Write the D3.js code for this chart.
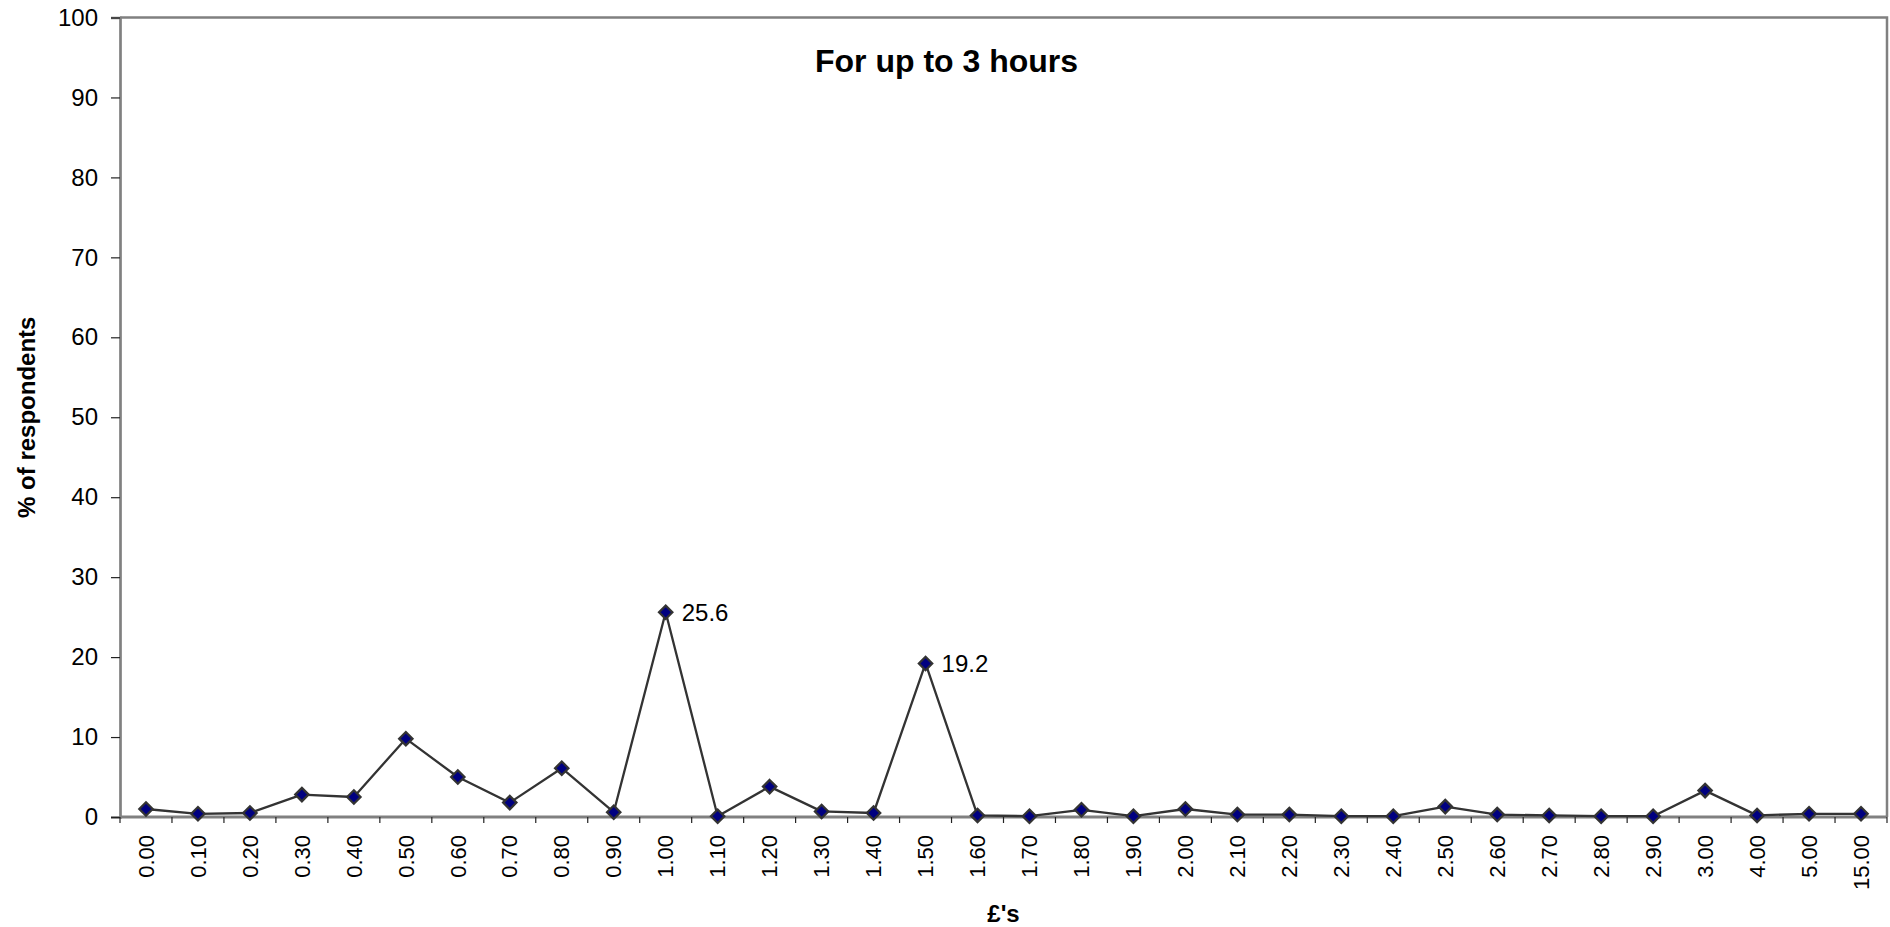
<!DOCTYPE html>
<html>
<head>
<meta charset="utf-8">
<script src="https://cdn.jsdelivr.net/npm/d3@7/dist/d3.min.js"></script>
<style>
  html, body { margin: 0; padding: 0; background: #ffffff; }
  svg { display: block; }
  text { font-family: "Liberation Sans", Arial, sans-serif; fill: #000; }
</style>
</head>
<body>
<script>
const categories = ["0.00","0.10","0.20","0.30","0.40","0.50","0.60","0.70","0.80","0.90",
  "1.00","1.10","1.20","1.30","1.40","1.50","1.60","1.70","1.80","1.90",
  "2.00","2.10","2.20","2.30","2.40","2.50","2.60","2.70","2.80","2.90",
  "3.00","4.00","5.00","15.00"];
const values = [1.0,0.4,0.5,2.8,2.5,9.8,5.0,1.8,6.1,0.6,
  25.6,0.1,3.8,0.7,0.5,19.2,0.2,0.1,0.9,0.1,
  1.0,0.3,0.3,0.1,0.1,1.3,0.3,0.2,0.1,0.1,
  3.3,0.2,0.4,0.4];
const labelledCategories = ["1.00","1.50"];
const yTicks = [0,10,20,30,40,50,60,70,80,90,100];
const chartTitle = "For up to 3 hours";
const xTitle = "£'s";
const yTitle = "% of respondents";

const W = 1890, H = 927;
const plot = { left: 120, right: 1887, top: 17.5, bottom: 817 };

const svg = d3.select("body").append("svg").attr("width", W).attr("height", H);

const x = d3.scaleBand().domain(categories).range([plot.left, plot.right]).paddingInner(0).paddingOuter(0);
const y = d3.scaleLinear().domain([0, 100]).range([plot.bottom, plot.top]);

// plot border (top, right)
svg.append("path")
  .attr("d", `M${plot.left},${plot.top}H${plot.right}V${plot.bottom}`)
  .attr("fill", "none").attr("stroke", "#808080").attr("stroke-width", 2.5);

// Y axis
const yAxis = svg.append("g").attr("transform", `translate(${plot.left},0)`)
  .call(d3.axisLeft(y).tickValues(yTicks).tickSize(9).tickPadding(13).tickFormat(d3.format("d")));
yAxis.select(".domain").attr("stroke", "#808080").attr("stroke-width", 2.7);
yAxis.selectAll(".tick line").attr("stroke", "#222").attr("stroke-width", 1.2);
yAxis.selectAll(".tick text").attr("font-size", 24).attr("font-family", "Liberation Sans, Arial, sans-serif").attr("fill", "#000");

// X axis: ticks at category boundaries
const xAxisG = svg.append("g");
xAxisG.append("line")
  .attr("x1", plot.left).attr("x2", plot.right)
  .attr("y1", plot.bottom).attr("y2", plot.bottom)
  .attr("stroke", "#808080").attr("stroke-width", 3.2);
const boundaries = categories.map(c => x(c)).concat([x(categories[categories.length-1]) + x.bandwidth()]);
xAxisG.selectAll("line.xt").data(boundaries).enter().append("line")
  .attr("class", "xt")
  .attr("x1", d => d).attr("x2", d => d)
  .attr("y1", plot.bottom).attr("y2", plot.bottom + 6)
  .attr("stroke", "#222").attr("stroke-width", 1.2);
xAxisG.selectAll("text.xl").data(categories).enter().append("text")
  .attr("class", "xl")
  .attr("transform", d => `translate(${x(d) + x.bandwidth()/2},835) rotate(-90)`)
  .attr("text-anchor", "end")
  .attr("dy", "0.35em")
  .attr("font-size", 22)
  .text(d => d);

// line
const cx = d => x(d) + x.bandwidth()/2;
const lineGen = d3.line().x((d, i) => cx(categories[i])).y(d => y(d));
svg.append("path").datum(values)
  .attr("d", lineGen)
  .attr("fill", "none").attr("stroke", "#333333").attr("stroke-width", 2.3)
  .attr("stroke-linejoin", "round");

// markers (diamonds)
const sym = d3.symbol().type(d3.symbolDiamond2).size(115);
svg.selectAll("path.mk").data(values).enter().append("path")
  .attr("class", "mk")
  .attr("d", sym)
  .attr("transform", (d, i) => `translate(${cx(categories[i])},${y(d)})`)
  .attr("fill", "#000080").attr("stroke", "#333333").attr("stroke-width", 2.2);

// data labels
svg.selectAll("text.dl").data(categories.filter(c => labelledCategories.includes(c))).enter().append("text")
  .attr("class", "dl")
  .attr("x", c => cx(c) + 16)
  .attr("y", c => y(values[categories.indexOf(c)]))
  .attr("dy", "0.35em")
  .attr("font-size", 24)
  .text(c => values[categories.indexOf(c)].toFixed(1));

// titles
svg.append("text").attr("x", 946.5).attr("y", 72).attr("text-anchor", "middle")
  .attr("font-size", 32).attr("font-weight", "bold").text(chartTitle);
svg.append("text").attr("x", (plot.left + plot.right)/2).attr("y", 922).attr("text-anchor", "middle")
  .attr("font-size", 24).attr("font-weight", "bold").text(xTitle);
svg.append("text").attr("transform", `translate(27,${(plot.top + plot.bottom)/2}) rotate(-90)`)
  .attr("text-anchor", "middle").attr("dy", "0.35em")
  .attr("font-size", 24).attr("font-weight", "bold").text(yTitle);
</script>
</body>
</html>
